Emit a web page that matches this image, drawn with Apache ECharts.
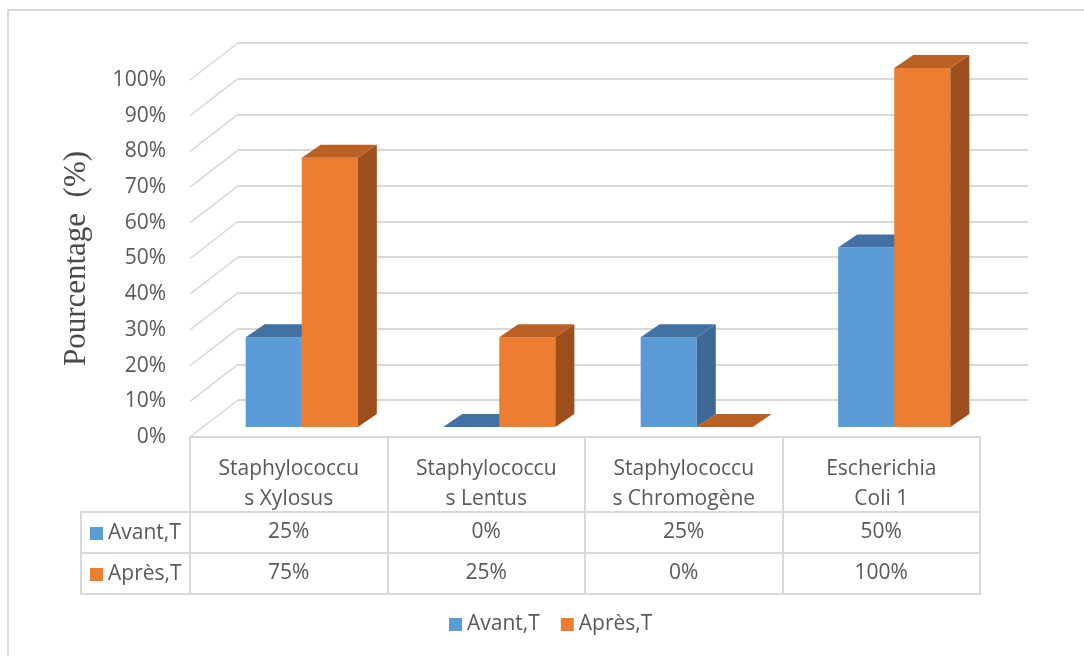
<!DOCTYPE html>
<html>
<head>
<meta charset="utf-8">
<script src="https://cdn.jsdelivr.net/npm/echarts@6/dist/echarts.min.js"></script>
<style>
  html, body { margin: 0; padding: 0; background: #fff; }
  #chart { width: 1084px; height: 656px; }
</style>
</head>
<body>
<div id="chart"></div>
<script>
// data
var categories = ["Staphylococcu\ns Xylosus", "Staphylococcu\ns Lentus", "Staphylococcu\ns Chromogène", "Escherichia\nColi 1"];
var seriesNames = ["Avant,T", "Après,T"];
var avant = [25, 0, 25, 50];
var apres = [75, 25, 0, 100];
var yTicks = [0, 10, 20, 30, 40, 50, 60, 70, 80, 90, 100];

var FONT = "'Open Sans', sans-serif";
var FS = 21;
var TXT = "#595959";
var LINE = "#D9D9D9";
var DX = 19, DY = -13; // bar depth
var WALL_DX = 48, WALL_DY = 37; // floor depth

// front, top, side colours
var blue = ["#5B9BD5", "#4272A3", "#3B6895"];
var orange = ["#ED7D31", "#BA6024", "#9C4F1C"];

function barRender(side, c) {
  return function (params, api) {
    var cat = api.value(0), val = api.value(1);
    var base = api.coord([cat, 0]);
    var top = api.coord([cat, val]);
    var bw = api.size([1, 0])[0] * 0.284;
    var x0 = side < 0 ? base[0] - bw : base[0];
    var x1 = x0 + bw;
    var yb = base[1], yt = top[1];
    return {
      type: "group",
      children: [
        { type: "rect", shape: { x: x0, y: yt, width: bw, height: yb - yt }, style: { fill: c[0] } },
        { type: "polygon", shape: { points: [[x1, yb], [x1 + DX, yb + DY], [x1 + DX, yt + DY], [x1, yt]] }, style: { fill: c[2] } },
        { type: "polygon", shape: { points: [[x0, yt], [x1, yt], [x1 + DX, yt + DY], [x0 + DX, yt + DY]] }, style: { fill: c[1] } }
      ]
    };
  };
}

var chart = echarts.init(document.getElementById("chart"));

var tableAxis = function (offset, labels, margin, extra) {
  return Object.assign({
    type: "category", gridIndex: 2, position: "bottom", offset: offset,
    data: labels,
    axisLine: { show: true, lineStyle: { color: LINE, width: 2 } },
    axisTick: { show: false },
    axisLabel: { show: true, interval: 0, color: TXT, fontFamily: FONT, fontSize: FS, margin: margin },
    splitLine: { show: false }
  }, extra || {});
};

chart.setOption({
  animation: false,
  backgroundColor: "#fff",
  legend: [
    {
      data: seriesNames, orient: "vertical", left: 90, top: 523, itemGap: 20, padding: 0,
      itemWidth: 13, itemHeight: 13, icon: "rect",
      textStyle: { color: TXT, fontFamily: FONT, fontSize: FS }
    },
    {
      data: seriesNames, orient: "horizontal", left: 449, top: 614, itemGap: 21, padding: 0,
      itemWidth: 13, itemHeight: 13, icon: "rect",
      textStyle: { color: TXT, fontFamily: FONT, fontSize: FS }
    }
  ],
  grid: [
    { left: 203, right: 91, top: 68, bottom: 229 },
    { left: 238, right: 56, top: 43, bottom: 256 },
    { left: 190, right: 104, top: 80, bottom: 219 }
  ],
  xAxis: [
    { type: "category", gridIndex: 0, data: categories, show: false },
    { type: "category", gridIndex: 1, data: categories, show: false },
    tableAxis(0, categories, 17, {
      axisTick: { show: true, interval: 0, length: 157, lineStyle: { color: LINE, width: 2 } },
      axisLabel: { show: true, interval: 0, color: TXT, fontFamily: FONT, fontSize: FS, margin: 17, lineHeight: 30 }
    }),
    tableAxis(75, avant.map(function (v) { return v + "%"; }), 10),
    tableAxis(116, apres.map(function (v) { return v + "%"; }), 10),
    tableAxis(157, categories, 0, { axisLabel: { show: false } })
  ],
  yAxis: [
    { type: "value", gridIndex: 0, min: 0, max: 100, show: false },
    {
      type: "value", gridIndex: 1, min: 0, max: 100, interval: 10,
      axisLine: { show: false }, axisTick: { show: false }, axisLabel: { show: false },
      splitLine: { show: true, lineStyle: { color: LINE, width: 2 } }
    },
    {
      type: "value", gridIndex: 2, min: 0, max: 100, interval: 10,
      axisLine: { show: false }, axisTick: { show: false },
      splitLine: { show: false },
      axisLabel: { color: TXT, fontFamily: FONT, fontSize: FS, margin: 24, formatter: "{value}%" },
      name: "Pourcentage  (%)", nameLocation: "middle", nameGap: 98, nameRotate: 90,
      nameTextStyle: { color: "#4a4a4a", fontFamily: "'Liberation Serif', serif", fontSize: 31 }
    }
  ],
  graphic: [
    { type: "rect", shape: { x: 8, y: 10, width: 1200, height: 800 }, style: { fill: null, stroke: LINE, lineWidth: 2 }, silent: true },
    { type: "polyline", shape: { points: [[190, 512], [81, 512], [81, 594], [190, 594]] }, style: { fill: null, stroke: LINE, lineWidth: 2 }, silent: true },
    { type: "line", shape: { x1: 81, y1: 553, x2: 190, y2: 553 }, style: { stroke: LINE, lineWidth: 2 }, silent: true }
  ],
  series: [
    {
      // left side wall lines
      type: "custom", xAxisIndex: 1, yAxisIndex: 1, silent: true, legendHoverLink: false,
      data: yTicks.map(function (v) { return [0, v]; }),
      renderItem: function (params, api) {
        var y = api.coord([0, api.value(1)])[1];
        var x = params.coordSys.x;
        return { type: "line", shape: { x1: x, y1: y, x2: x - WALL_DX, y2: y + WALL_DY }, style: { stroke: LINE, lineWidth: 1.5 } };
      },
      z: 1
    },
    {
      name: seriesNames[0], type: "custom", xAxisIndex: 0, yAxisIndex: 0,
      itemStyle: { color: blue[0] },
      data: avant.map(function (v, i) { return [i, v]; }),
      renderItem: barRender(-1, blue), z: 3
    },
    {
      name: seriesNames[1], type: "custom", xAxisIndex: 0, yAxisIndex: 0,
      itemStyle: { color: orange[0] },
      data: apres.map(function (v, i) { return [i, v]; }),
      renderItem: barRender(1, orange), z: 4
    }
  ]
});
</script>
</body>
</html>
